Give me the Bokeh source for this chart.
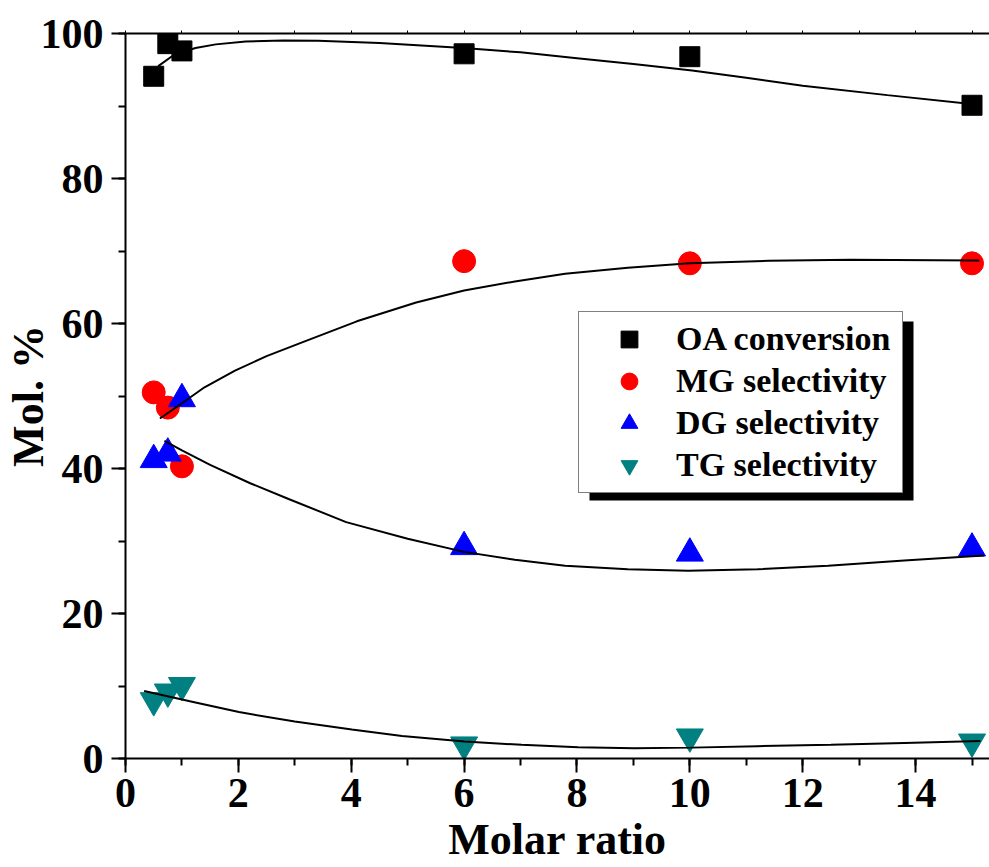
from bokeh.plotting import figure
from bokeh.models import (LinearAxis, SingleIntervalTicker, Legend, LegendItem,
                          BoxAnnotation, Range1d)
from bokeh.embed import file_html
from bokeh.resources import INLINE

# ---------------- data ----------------
molar_ratio = [0.5, 0.75, 1.0, 6.0, 10.0, 15.0]
oa_conversion = [94.1, 98.6, 97.6, 97.2, 96.8, 90.1]
mg_selectivity = [50.5, 48.4, 40.3, 68.6, 68.3, 68.3]
dg_selectivity = [41.2, 42.1, 49.6, 29.2, 28.3, 29.0]
tg_selectivity = [8.0, 9.2, 10.1, 1.9, 3.0, 2.3]

# fitted curves
oa_fit_x = [0.58, 0.83, 1.0, 1.24, 1.6, 2.13, 2.8, 3.41, 4.5, 5.99, 7.0, 8.0,
            9.0, 10.04, 11.0, 12.0, 13.5, 15.07]
oa_fit_y = [95.5, 96.9, 97.4, 98.0, 98.5, 98.9, 99.05, 99.0, 98.7, 98.0, 97.4,
            96.6, 95.8, 94.9, 93.9, 92.8, 91.5, 90.2]
mg_fit_x = [0.61, 1.0, 1.4, 1.94, 2.5, 3.13, 4.1, 5.15, 6.0, 6.9, 7.79, 8.9,
            10.0, 11.4, 12.85, 15.13]
mg_fit_y = [46.9, 49.0, 51.2, 53.5, 55.5, 57.4, 60.3, 62.9, 64.55, 65.8, 66.85,
            67.7, 68.3, 68.65, 68.8, 68.7]
dg_fit_x = [0.69, 1.0, 1.5, 2.2, 2.89, 3.91, 5.0, 6.0, 6.9, 7.79, 8.9, 9.97,
            11.2, 12.45, 13.8, 15.21]
dg_fit_y = [43.8, 42.5, 40.5, 38.0, 35.8, 32.6, 30.3, 28.5, 27.4, 26.6, 26.1,
            25.9, 26.1, 26.6, 27.3, 28.0]
tg_fit_x = [0.33, 1.2, 2.01, 3.0, 4.01, 4.9, 6.01, 7.02, 8.02, 9.02, 10.02,
            11.2, 12.5, 13.8, 15.15]
tg_fit_y = [9.3, 7.8, 6.4, 5.1, 4.0, 3.1, 2.34, 1.88, 1.56, 1.43, 1.5, 1.7,
            1.9, 2.15, 2.4]

series_labels = ["OA conversion", "MG selectivity", "DG selectivity", "TG selectivity"]
x_title = "Molar ratio"
y_title = "Mol. %"

FONT = "Liberation Serif"

p = figure(width=989, height=867, output_backend="svg", toolbar_location=None,
           x_range=Range1d(0, 15.31), y_range=Range1d(0, 100),
           x_axis_type=None, y_axis_type=None,
           min_border_left=124, min_border_right=0, min_border_top=33,
           min_border_bottom=109)
p.outline_line_color = None
p.background_fill_color = "white"
p.border_fill_color = "white"

def style_axis(ax, size="42px"):
    ax.axis_line_width = 2
    ax.axis_line_color = "black"
    ax.major_tick_line_width = 2
    ax.minor_tick_line_width = 2
    ax.major_tick_in = 0
    ax.minor_tick_in = 0
    ax.major_label_text_font = FONT
    ax.major_label_text_font_style = "bold"
    ax.major_label_text_font_size = size
    ax.major_label_text_color = "black"
    ax.axis_label_text_font = FONT
    ax.axis_label_text_font_style = "bold"
    ax.axis_label_text_font_size = "44px"
    ax.axis_label_text_color = "black"

xaxis = LinearAxis(ticker=SingleIntervalTicker(interval=2, num_minor_ticks=2),
                   axis_label=x_title)
style_axis(xaxis)
xaxis.major_tick_out = 14
xaxis.minor_tick_out = 7
xaxis.major_label_standoff = 6
xaxis.axis_label_standoff = 5
p.add_layout(xaxis, "below")

yaxis = LinearAxis(ticker=SingleIntervalTicker(interval=20, num_minor_ticks=2),
                   axis_label=y_title)
style_axis(yaxis)
yaxis.major_tick_out = 14
yaxis.minor_tick_out = 7
yaxis.major_label_standoff = 8
yaxis.axis_label_standoff = -15
p.add_layout(yaxis, "left")

topaxis = LinearAxis(ticker=SingleIntervalTicker(interval=1, num_minor_ticks=0))
style_axis(topaxis, size="12px")
topaxis.major_label_overrides = {i: "" for i in range(0, 16)}
topaxis.major_tick_out = 3
topaxis.minor_tick_out = 0
topaxis.major_tick_line_width = 1
topaxis.major_label_standoff = 0
p.add_layout(topaxis, "above")

# markers
r_oa = p.scatter(molar_ratio, oa_conversion, marker="square", size=20,
                 fill_color="black", line_color="black")
r_mg = p.scatter(molar_ratio, mg_selectivity, marker="circle", size=23,
                 fill_color="#FF0000", line_color="#FF0000")
r_dg = p.scatter(molar_ratio, dg_selectivity, marker="triangle", size=27,
                 fill_color="#0000FF", line_color="#0000FF")
r_tg = p.scatter(molar_ratio, tg_selectivity, marker="inverted_triangle", size=27,
                 fill_color="#008080", line_color="#008080")

# fitted curves
for fx, fy in [(oa_fit_x, oa_fit_y), (mg_fit_x, mg_fit_y),
               (dg_fit_x, dg_fit_y), (tg_fit_x, tg_fit_y)]:
    p.line(fx, fy, line_color="black", line_width=2)

# legend shadow
shadow = BoxAnnotation(left=464, right=788, top=437, bottom=258,
                       left_units="screen", right_units="screen",
                       top_units="screen", bottom_units="screen",
                       fill_color="black", fill_alpha=1.0, line_color=None)
p.add_layout(shadow)

legend = Legend(items=[LegendItem(label=series_labels[0], renderers=[r_oa]),
                       LegendItem(label=series_labels[1], renderers=[r_mg]),
                       LegendItem(label=series_labels[2], renderers=[r_dg]),
                       LegendItem(label=series_labels[3], renderers=[r_tg])],
                location=(453, 265), orientation="vertical",
                border_line_color="black", border_line_width=1,
                background_fill_color="white", background_fill_alpha=1.0,
                label_text_font=FONT, label_text_font_style="bold",
                label_text_font_size="34px", label_text_color="black",
                glyph_width=88, glyph_height=42, label_height=42,
                label_width=220, spacing=0, padding=6, label_standoff=3,
                margin=0)
p.add_layout(legend, "center")

open("out.html", "w").write(file_html(p, INLINE))
